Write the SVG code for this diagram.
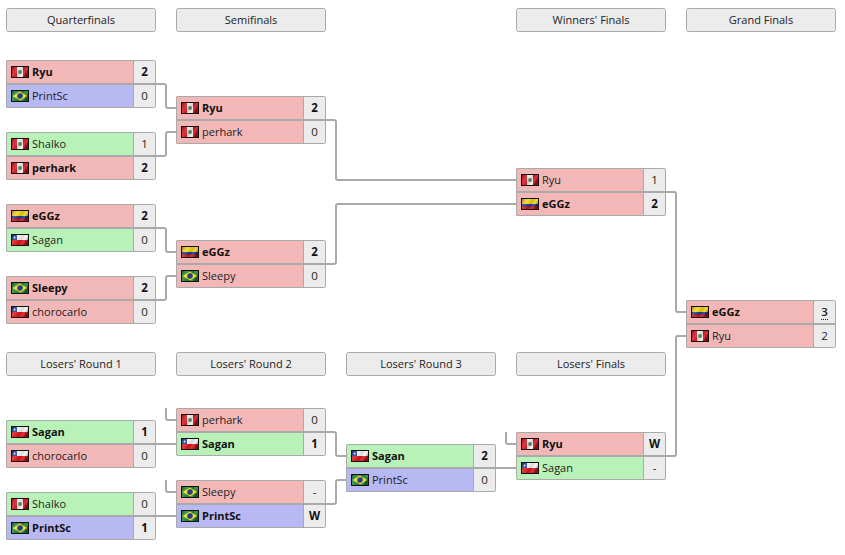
<svg xmlns="http://www.w3.org/2000/svg" width="845" height="555" viewBox="0 0 845 555">
<style>
text{font-family:"Open Sans","Noto Sans","DejaVu Sans",sans-serif;font-size:11px;fill:#222}
.h rect{fill:#ececec;stroke:#aaa;stroke-width:1}
.h text{text-anchor:middle}
.b{font-weight:700;fill:#111}
.s{text-anchor:middle;font-size:11.5px}
.r{fill:#f2b8b8}.g{fill:#b8f2b8}.u{fill:#b8b8f2}.c{fill:#ececec}
.o{fill:none;stroke:#aaa;stroke-width:1}
.d{fill:none;stroke:#aaa;stroke-width:2}
.v{fill:none;stroke:#aaa;stroke-width:1}
#conn path{fill:none;stroke:#aaa;stroke-width:2}
</style>
<defs>
<linearGradient id="sh" x1="0" y1="0" x2="1" y2="0.4"><stop offset="0" stop-color="#000" stop-opacity=".4"/><stop offset=".35" stop-color="#fff" stop-opacity=".15"/><stop offset=".65" stop-color="#000" stop-opacity=".12"/><stop offset=".8" stop-color="#fff" stop-opacity=".1"/><stop offset="1" stop-color="#000" stop-opacity=".35"/></linearGradient>
<g id="pe"><rect width="18" height="12" fill="#111"/><rect x="1" y="1" width="5" height="10" fill="#d8101c"/><rect x="6" y="1" width="6" height="10" fill="#f6f0f0"/><rect x="12" y="1" width="5" height="10" fill="#d8101c"/><circle cx="9" cy="6" r="2" fill="#5a9060"/><rect x="1" y="1" width="16" height="10" fill="url(#sh)"/></g>
<g id="br"><rect width="18" height="12" fill="#111"/><rect x="1" y="1" width="16" height="10" fill="#1c8a34"/><path d="M9 1.500L16.500 6L9 10.500L1.500 6Z" fill="#f0dc20"/><circle cx="9" cy="6" r="2.800" fill="#1f3f8f"/><rect x="1" y="1" width="16" height="10" fill="url(#sh)"/></g>
<g id="cl"><rect width="18" height="12" fill="#111"/><rect x="1" y="1" width="16" height="5" fill="#f6f6f6"/><rect x="1" y="6" width="16" height="5" fill="#e0141c"/><rect x="1" y="1" width="5" height="5" fill="#1a3a9a"/><circle cx="3.500" cy="3.500" r="1" fill="#fff"/><rect x="1" y="1" width="16" height="10" fill="url(#sh)"/></g>
<g id="co"><rect width="18" height="12" fill="#111"/><rect x="1" y="1" width="16" height="5" fill="#f2d41c"/><rect x="1" y="6" width="16" height="2.500" fill="#1c3a94"/><rect x="1" y="8.500" width="16" height="2.500" fill="#d8141c"/><rect x="1" y="1" width="16" height="10" fill="url(#sh)"/></g>
</defs>
<rect width="845" height="555" fill="#fff"/>

<g id="conn">
<path d="M156 84H164a2 2 0 0 1 2 2V106a2 2 0 0 0 2 2H176"/>
<path d="M156 156H164a2 2 0 0 0 2-2V134a2 2 0 0 1 2-2H176"/>
<path d="M156 228H164a2 2 0 0 1 2 2V250a2 2 0 0 0 2 2H176"/>
<path d="M156 300H164a2 2 0 0 0 2-2V278a2 2 0 0 1 2-2H176"/>
<path d="M326 120H334a2 2 0 0 1 2 2V178a2 2 0 0 0 2 2H516"/>
<path d="M326 264H334a2 2 0 0 0 2-2V206a2 2 0 0 1 2-2H516"/>
<path d="M666 192H674a2 2 0 0 1 2 2V310a2 2 0 0 0 2 2H686"/>
<path d="M666 456H674a2 2 0 0 0 2-2V338a2 2 0 0 1 2-2H686"/>
<path d="M156 444H176"/>
<path d="M156 516H176"/>
<path d="M166 408V418a2 2 0 0 0 2 2H176"/>
<path d="M166 480V490a2 2 0 0 0 2 2H176"/>
<path d="M326 432H334a2 2 0 0 1 2 2V454a2 2 0 0 0 2 2H346"/>
<path d="M326 504H334a2 2 0 0 0 2-2V482a2 2 0 0 1 2-2H346"/>
<path d="M496 468H516"/>
<path d="M506 432V442a2 2 0 0 0 2 2H516"/>
</g>

<g id="h-qf" class="h"><rect x="6.500" y="8.500" width="149" height="23" rx="2"/><text x="81" y="24">Quarterfinals</text></g>
<g id="h-sf" class="h"><rect x="176.500" y="8.500" width="149" height="23" rx="2"/><text x="251" y="24">Semifinals</text></g>
<g id="h-wf" class="h"><rect x="516.500" y="8.500" width="149" height="23" rx="2"/><text x="591" y="24">Winners' Finals</text></g>
<g id="h-gf" class="h"><rect x="686.500" y="8.500" width="149" height="23" rx="2"/><text x="761" y="24">Grand Finals</text></g>
<g id="h-l1" class="h"><rect x="6.500" y="352.500" width="149" height="23" rx="2"/><text x="81" y="368">Losers' Round 1</text></g>
<g id="h-l2" class="h"><rect x="176.500" y="352.500" width="149" height="23" rx="2"/><text x="251" y="368">Losers' Round 2</text></g>
<g id="h-l3" class="h"><rect x="346.500" y="352.500" width="149" height="23" rx="2"/><text x="421" y="368">Losers' Round 3</text></g>
<g id="h-lf" class="h"><rect x="516.500" y="352.500" width="149" height="23" rx="2"/><text x="591" y="368">Losers' Finals</text></g>

<g id="m-qf1"><rect class="r" x="6" y="60" width="128" height="24"/><rect class="u" x="6" y="84" width="128" height="24"/><rect class="c" x="134" y="60" width="22" height="48"/>
<path class="v" d="M133.500 60V108"/><path class="d" d="M6 84H156"/><rect class="o" x="6.500" y="60.500" width="149" height="47" rx="2"/>
<use href="#pe" x="11" y="66"/><text class="b" x="32" y="76">Ryu</text><text class="s b" x="144.500" y="76">2</text>
<use href="#br" x="11" y="90"/><text x="32" y="100">PrintSc</text><text class="s" x="144.500" y="100">0</text></g>

<g id="m-qf2"><rect class="g" x="6" y="132" width="128" height="24"/><rect class="r" x="6" y="156" width="128" height="24"/><rect class="c" x="134" y="132" width="22" height="48"/>
<path class="v" d="M133.500 132V180"/><path class="d" d="M6 156H156"/><rect class="o" x="6.500" y="132.500" width="149" height="47" rx="2"/>
<use href="#pe" x="11" y="138"/><text x="32" y="148">Shalko</text><text class="s" x="144.500" y="148">1</text>
<use href="#pe" x="11" y="162"/><text class="b" x="32" y="172">perhark</text><text class="s b" x="144.500" y="172">2</text></g>

<g id="m-qf3"><rect class="r" x="6" y="204" width="128" height="24"/><rect class="g" x="6" y="228" width="128" height="24"/><rect class="c" x="134" y="204" width="22" height="48"/>
<path class="v" d="M133.500 204V252"/><path class="d" d="M6 228H156"/><rect class="o" x="6.500" y="204.500" width="149" height="47" rx="2"/>
<use href="#co" x="11" y="210"/><text class="b" x="32" y="220">eGGz</text><text class="s b" x="144.500" y="220">2</text>
<use href="#cl" x="11" y="234"/><text x="32" y="244">Sagan</text><text class="s" x="144.500" y="244">0</text></g>

<g id="m-qf4"><rect class="r" x="6" y="276" width="128" height="48"/><rect class="c" x="134" y="276" width="22" height="48"/>
<path class="v" d="M133.500 276V324"/><path class="d" d="M6 300H156"/><rect class="o" x="6.500" y="276.500" width="149" height="47" rx="2"/>
<use href="#br" x="11" y="282"/><text class="b" x="32" y="292">Sleepy</text><text class="s b" x="144.500" y="292">2</text>
<use href="#cl" x="11" y="306"/><text x="32" y="316">chorocarlo</text><text class="s" x="144.500" y="316">0</text></g>

<g id="m-sf1"><rect class="r" x="176" y="96" width="128" height="48"/><rect class="c" x="304" y="96" width="22" height="48"/>
<path class="v" d="M303.500 96V144"/><path class="d" d="M176 120H326"/><rect class="o" x="176.500" y="96.500" width="149" height="47" rx="2"/>
<use href="#pe" x="181" y="102"/><text class="b" x="202" y="112">Ryu</text><text class="s b" x="314.500" y="112">2</text>
<use href="#pe" x="181" y="126"/><text x="202" y="136">perhark</text><text class="s" x="314.500" y="136">0</text></g>

<g id="m-sf2"><rect class="r" x="176" y="240" width="128" height="48"/><rect class="c" x="304" y="240" width="22" height="48"/>
<path class="v" d="M303.500 240V288"/><path class="d" d="M176 264H326"/><rect class="o" x="176.500" y="240.500" width="149" height="47" rx="2"/>
<use href="#co" x="181" y="246"/><text class="b" x="202" y="256">eGGz</text><text class="s b" x="314.500" y="256">2</text>
<use href="#br" x="181" y="270"/><text x="202" y="280">Sleepy</text><text class="s" x="314.500" y="280">0</text></g>

<g id="m-wf"><rect class="r" x="516" y="168" width="128" height="48"/><rect class="c" x="644" y="168" width="22" height="48"/>
<path class="v" d="M643.500 168V216"/><path class="d" d="M516 192H666"/><rect class="o" x="516.500" y="168.500" width="149" height="47" rx="2"/>
<use href="#pe" x="521" y="174"/><text x="542" y="184">Ryu</text><text class="s" x="654.500" y="184">1</text>
<use href="#co" x="521" y="198"/><text class="b" x="542" y="208">eGGz</text><text class="s b" x="654.500" y="208">2</text></g>

<g id="m-gf"><rect class="r" x="686" y="300" width="128" height="48"/><rect class="c" x="814" y="300" width="22" height="48"/>
<path class="v" d="M813.500 300V348"/><path class="d" d="M686 324H836"/><rect class="o" x="686.500" y="300.500" width="149" height="47" rx="2"/>
<use href="#co" x="691" y="306"/><text class="b" x="712" y="316">eGGz</text><text class="s" x="824.500" y="316" font-weight="600">3</text><path d="M821 319.500H828" stroke="#222" stroke-width="1" stroke-dasharray="1 1" fill="none"/>
<use href="#pe" x="691" y="330"/><text x="712" y="340">Ryu</text><text class="s" x="824.500" y="340">2</text></g>

<g id="m-l11"><rect class="g" x="6" y="420" width="128" height="24"/><rect class="r" x="6" y="444" width="128" height="24"/><rect class="c" x="134" y="420" width="22" height="48"/>
<path class="v" d="M133.500 420V468"/><path class="d" d="M6 444H156"/><rect class="o" x="6.500" y="420.500" width="149" height="47" rx="2"/>
<use href="#cl" x="11" y="426"/><text class="b" x="32" y="436">Sagan</text><text class="s b" x="144.500" y="436">1</text>
<use href="#cl" x="11" y="450"/><text x="32" y="460">chorocarlo</text><text class="s" x="144.500" y="460">0</text></g>

<g id="m-l12"><rect class="g" x="6" y="492" width="128" height="24"/><rect class="u" x="6" y="516" width="128" height="24"/><rect class="c" x="134" y="492" width="22" height="48"/>
<path class="v" d="M133.500 492V540"/><path class="d" d="M6 516H156"/><rect class="o" x="6.500" y="492.500" width="149" height="47" rx="2"/>
<use href="#pe" x="11" y="498"/><text x="32" y="508">Shalko</text><text class="s" x="144.500" y="508">0</text>
<use href="#br" x="11" y="522"/><text class="b" x="32" y="532">PrintSc</text><text class="s b" x="144.500" y="532">1</text></g>

<g id="m-l21"><rect class="r" x="176" y="408" width="128" height="24"/><rect class="g" x="176" y="432" width="128" height="24"/><rect class="c" x="304" y="408" width="22" height="48"/>
<path class="v" d="M303.500 408V456"/><path class="d" d="M176 432H326"/><rect class="o" x="176.500" y="408.500" width="149" height="47" rx="2"/>
<use href="#pe" x="181" y="414"/><text x="202" y="424">perhark</text><text class="s" x="314.500" y="424">0</text>
<use href="#cl" x="181" y="438"/><text class="b" x="202" y="448">Sagan</text><text class="s b" x="314.500" y="448">1</text></g>

<g id="m-l22"><rect class="r" x="176" y="480" width="128" height="24"/><rect class="u" x="176" y="504" width="128" height="24"/><rect class="c" x="304" y="480" width="22" height="48"/>
<path class="v" d="M303.500 480V528"/><path class="d" d="M176 504H326"/><rect class="o" x="176.500" y="480.500" width="149" height="47" rx="2"/>
<use href="#br" x="181" y="486"/><text x="202" y="496">Sleepy</text><text class="s" x="314.500" y="496">-</text>
<use href="#br" x="181" y="510"/><text class="b" x="202" y="520">PrintSc</text><text class="s b" x="314.500" y="520">W</text></g>

<g id="m-l3"><rect class="g" x="346" y="444" width="128" height="24"/><rect class="u" x="346" y="468" width="128" height="24"/><rect class="c" x="474" y="444" width="22" height="48"/>
<path class="v" d="M473.500 444V492"/><path class="d" d="M346 468H496"/><rect class="o" x="346.500" y="444.500" width="149" height="47" rx="2"/>
<use href="#cl" x="351" y="450"/><text class="b" x="372" y="460">Sagan</text><text class="s b" x="484.500" y="460">2</text>
<use href="#br" x="351" y="474"/><text x="372" y="484">PrintSc</text><text class="s" x="484.500" y="484">0</text></g>

<g id="m-lf"><rect class="r" x="516" y="432" width="128" height="24"/><rect class="g" x="516" y="456" width="128" height="24"/><rect class="c" x="644" y="432" width="22" height="48"/>
<path class="v" d="M643.500 432V480"/><path class="d" d="M516 456H666"/><rect class="o" x="516.500" y="432.500" width="149" height="47" rx="2"/>
<use href="#pe" x="521" y="438"/><text class="b" x="542" y="448">Ryu</text><text class="s b" x="654.500" y="448">W</text>
<use href="#cl" x="521" y="462"/><text x="542" y="472">Sagan</text><text class="s" x="654.500" y="472">-</text></g>
</svg>
